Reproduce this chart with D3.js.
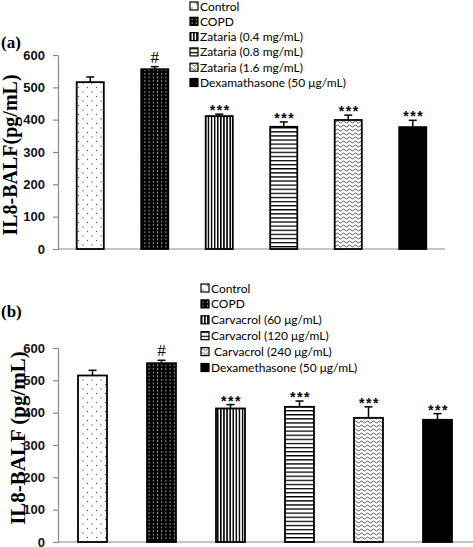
<!DOCTYPE html>
<html>
<head>
<meta charset="utf-8">
<script src="https://cdn.jsdelivr.net/npm/d3@7"></script>
<style>
html,body{margin:0;padding:0;background:#fff;}
svg{display:block;}
</style>
</head>
<body>
<svg id="chart" width="473" height="547"></svg>
<script>
// ---------- data ----------
const categoriesA = ["Control", "COPD", "Zataria (0.4 mg/mL)", "Zataria (0.8 mg/mL)", "Zataria (1.6 mg/mL)", "Dexamathasone (50 μg/mL)"];
const valuesA = [516, 556, 411, 378, 399, 377];
const errorsA = [16, 8, 6, 15, 15, 21];
const signifA = ["", "#", "***", "***", "***", "***"];

const categoriesB = ["Control", "COPD", "Carvacrol (60 μg/mL)", "Carvacrol (120 μg/mL)", " Carvacrol (240 μg/mL)", "Dexamethasone (50 μg/mL)"];
const valuesB = [515, 553, 413, 418, 384, 378];
const errorsB = [16, 9, 12, 18, 34, 19];
const signifB = ["", "#", "***", "***", "***", "***"];

const yTicks = [0, 100, 200, 300, 400, 500, 600];
const patternIds = ["pDots", "pDense", "pVert", "pHoriz", "pWave", "pSolid"];

const svg = d3.select("#chart");
const defs = svg.append("defs");

// ---------- patterns ----------
function pat(id, w, h) {
  return defs.append("pattern").attr("id", id).attr("patternUnits", "userSpaceOnUse")
    .attr("width", w).attr("height", h);
}
let p = pat("pDots", 9, 9);
p.append("rect").attr("width", 9).attr("height", 9).attr("fill", "#fff");
p.append("circle").attr("cx", 2).attr("cy", 2).attr("r", 0.65).attr("fill", "#555");
p.append("circle").attr("cx", 6.5).attr("cy", 6.5).attr("r", 0.65).attr("fill", "#555");

p = pat("pDense", 4.2, 3.6);
p.append("rect").attr("width", 4.2).attr("height", 3.6).attr("fill", "#000");
p.append("circle").attr("cx", 2.1).attr("cy", 1.8).attr("r", 0.6).attr("fill", "#fff");

p = pat("pVert", 3.1, 4);
p.append("rect").attr("width", 3.1).attr("height", 4).attr("fill", "#fff");
p.append("rect").attr("x", 0).attr("width", 1.5).attr("height", 4).attr("fill", "#000");

p = pat("pHoriz", 4, 4.1);
p.append("rect").attr("width", 4).attr("height", 4.1).attr("fill", "#fff");
p.append("rect").attr("y", 0).attr("width", 4).attr("height", 1.3).attr("fill", "#000");

p = pat("pWave", 6, 4);
p.append("rect").attr("width", 6).attr("height", 4).attr("fill", "#fff");
p.append("path").attr("d", "M0,2 Q1.5,0 3,2 T6,2").attr("fill", "none")
  .attr("stroke", "#333").attr("stroke-width", 0.8);

p = pat("pSolid", 4, 4);
p.append("rect").attr("width", 4).attr("height", 4).attr("fill", "#000");

// ---------- panel drawing ----------
function drawPanel(cfg) {
  const g = svg.append("g");
  const x = d3.scaleBand().domain(cfg.categories).range([cfg.x0, cfg.x1])
    .paddingInner(0.58).paddingOuter(0.29);
  const y = d3.scaleLinear().domain([0, 600]).range([cfg.yBottom, cfg.yTop]);

  // axis
  const ax = g.append("g").attr("transform", `translate(${cfg.x0},0)`)
    .call(d3.axisLeft(y).tickValues(yTicks).tickSize(5).tickSizeOuter(0).tickPadding(8));
  ax.select(".domain").attr("stroke", "#8a8a8a").attr("stroke-width", 1.2);
  ax.selectAll(".tick line").attr("stroke", "#8a8a8a").attr("stroke-width", 1.2);
  ax.selectAll(".tick text").attr("font-family", "'Liberation Sans', Arial, sans-serif")
    .attr("font-weight", "bold").attr("font-size", 13).attr("fill", "#111");

  // baseline
  g.append("line").attr("x1", cfg.x0).attr("x2", cfg.xLineEnd)
    .attr("y1", y(0)).attr("y2", y(0)).attr("stroke", "#8a8a8a").attr("stroke-width", 1.2);

  const data = cfg.categories.map((c, i) => ({ c, v: cfg.values[i], e: cfg.errors[i], s: cfg.signif[i], p: patternIds[i] }));

  // error bars
  const eb = g.selectAll(".eb").data(data).enter().append("g");
  eb.append("line").attr("x1", d => x(d.c) + x.bandwidth() / 2).attr("x2", d => x(d.c) + x.bandwidth() / 2)
    .attr("y1", d => y(d.v)).attr("y2", d => y(d.v + d.e)).attr("stroke", "#000").attr("stroke-width", 1.5);
  eb.append("line").attr("x1", d => x(d.c) + x.bandwidth() / 2 - 4).attr("x2", d => x(d.c) + x.bandwidth() / 2 + 4)
    .attr("y1", d => y(d.v + d.e)).attr("y2", d => y(d.v + d.e)).attr("stroke", "#000").attr("stroke-width", 1.5);

  // bars
  g.selectAll(".bar").data(data).enter().append("rect")
    .attr("x", d => x(d.c)).attr("width", x.bandwidth())
    .attr("y", d => y(d.v)).attr("height", d => y(0) - y(d.v))
    .attr("fill", d => `url(#${d.p})`).attr("stroke", "#000").attr("stroke-width", 1.8);

  // significance
  g.selectAll(".sig").data(data).enter().append("text")
    .attr("x", d => x(d.c) + x.bandwidth() / 2 + (d.s === "#" ? 0 : 1))
    .attr("y", d => y(d.v + d.e) + (d.s === "#" ? -4 : 1))
    .attr("text-anchor", "middle")
    .attr("font-family", d => d.s === "#" ? "'Liberation Serif', serif" : "'Liberation Sans', sans-serif")
    .attr("font-weight", d => d.s === "#" ? "normal" : "bold")
    .attr("font-size", d => d.s === "#" ? 17 : 14)
    .attr("letter-spacing", d => d.s === "#" ? 0 : 1.5)
    .text(d => d.s);

  // y label
  g.append("text")
    .attr("transform", `translate(${cfg.labelX},${cfg.labelY}) rotate(-90)`)
    .attr("text-anchor", "middle")
    .attr("font-family", "'Liberation Serif', 'Times New Roman', serif")
    .attr("font-weight", "bold").attr("font-size", cfg.labelSize)
    .text(cfg.yLabel);

  // panel tag
  g.append("text").attr("x", 1).attr("y", cfg.tagY)
    .attr("font-family", "'Liberation Serif', serif").attr("font-size", 17).attr("font-weight", "bold")
    .text(cfg.tag);

  // legend
  const lg = g.append("g");
  const items = lg.selectAll(".li").data(data).enter().append("g")
    .attr("transform", (d, i) => `translate(${cfg.legX},${cfg.legY + i * cfg.legStep})`);
  items.append("rect").attr("x", 0).attr("y", -4).attr("width", 8).attr("height", 8)
    .attr("fill", d => `url(#${d.p})`).attr("stroke", "#000").attr("stroke-width", 1.2);
  items.append("text").attr("x", 10).attr("y", 4.5)
    .attr("font-family", "Lato, 'Open Sans', sans-serif").attr("font-size", 12).attr("fill", "#000")
    .style("white-space", "pre")
    .text(d => d.c);
}

drawPanel({
  categories: categoriesA, values: valuesA, errors: errorsA, signif: signifA,
  x0: 58, x1: 445, xLineEnd: 445, yTop: 55, yBottom: 249,
  yLabel: "IL8-BALF(pg/mL)", labelX: 17, labelY: 155, labelSize: 20,
  tag: "(a)", tagY: 48,
  legX: 190, legY: 6, legStep: 15.3
});

drawPanel({
  categories: categoriesB, values: valuesB, errors: errorsB, signif: signifB,
  x0: 58, x1: 472, xLineEnd: 473, yTop: 348, yBottom: 542,
  yLabel: "IL8-BALF (pg/mL)", labelX: 25, labelY: 438, labelSize: 21,
  tag: "(b)", tagY: 317,
  legX: 201, legY: 288, legStep: 15.9
});
</script>
</body>
</html>
